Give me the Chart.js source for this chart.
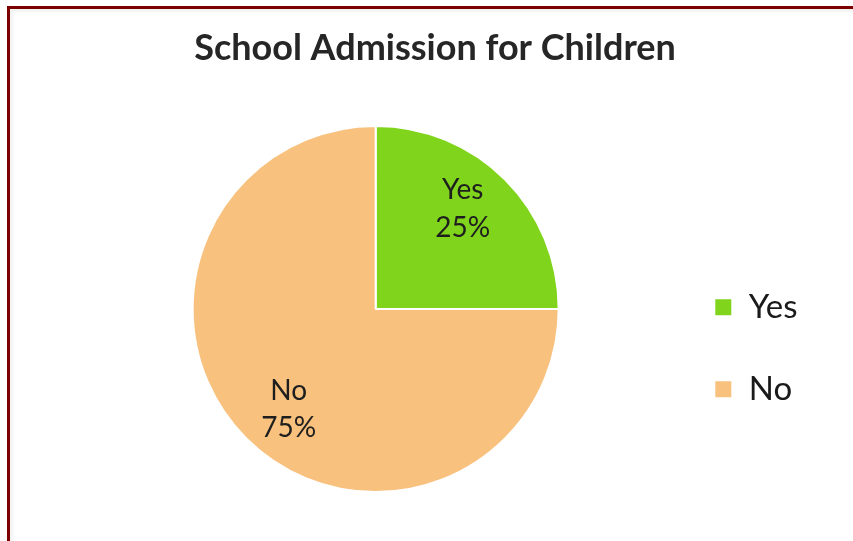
<!DOCTYPE html>
<html>
<head>
<meta charset="utf-8">
<title>School Admission for Children</title>
<script src="https://cdn.jsdelivr.net/npm/chart.js@4.4.1/dist/chart.umd.min.js"></script>
<style>
    html, body {
        margin: 0;
        padding: 0;
        background: #ffffff;
    }
    .frame {
        position: relative;
        width: 853px;
        height: 541px;
        overflow: hidden;
    }
    .frame canvas {
        position: absolute;
        left: 0;
        top: 0;
    }
    /* dark red edge on the left and top, with a faint inner shadow */
    .frame .edge {
        position: absolute;
        left: 7px;
        top: 6px;
        width: 900px;
        height: 600px;
        border-left: 3px solid #7d0000;
        border-top: 3px solid #7d0000;
        box-shadow: inset 3px 3px 3px rgba(0, 0, 0, 0.05);
        pointer-events: none;
    }
</style>
</head>
<body>
<div class="frame">
    <canvas id="pie1" width="853" height="541"></canvas>
    <div class="edge"></div>
</div>
<script>
const labels = ['Yes', 'No']
const values = [25, 75]
const colors = ['#80d41c', '#f8c17e']

// writes "label / percent" inside every slice, a bit before the slice middle
const sliceLabels = {
    id: 'sliceLabels',
    afterDatasetsDraw(chart) {
        const ctx = chart.ctx
        const meta = chart.getDatasetMeta(0)
        const total = values.reduce((a, b) => a + b, 0)
        const nudge = -4 * Math.PI / 180
        ctx.save()
        ctx.font = '28px Lato'
        ctx.fillStyle = '#1e1e1e'
        ctx.textAlign = 'center'
        ctx.textBaseline = 'middle'
        meta.data.forEach((arc, i) => {
            const p = arc.getProps(['x', 'y', 'startAngle', 'endAngle', 'outerRadius'], true)
            const mid = (p.startAngle + p.endAngle) / 2 + nudge
            const r = p.outerRadius * 0.725
            const cx = p.x + Math.cos(mid) * r
            const cy = p.y + Math.sin(mid) * r
            const pct = Math.round(values[i] / total * 100) + '%'
            ctx.fillText(labels[i], cx, cy - 18.5)
            ctx.fillText(pct, cx, cy + 19)
        })
        ctx.restore()
    }
}

function render_pie(canvas_id) {
    const ctx = document.getElementById(canvas_id)

    new Chart(ctx, {
        type: 'pie',
        data: {
            labels: labels,
            datasets: [{
                data: values,
                backgroundColor: colors,
                borderColor: '#ffffff',
                borderWidth: 2,
                radius: 183
            }]
        },
        options: {
            responsive: false,
            animation: false,
            devicePixelRatio: 1,
            layout: {
                padding: { left: 62.5, right: 45.5, top: 0, bottom: 13.2 }
            },
            plugins: {
                tooltip: { enabled: false },
                title: {
                    display: true,
                    text: 'School Admission for Children',
                    color: '#262626',
                    font: { family: 'Lato', size: 36, weight: 'bold' },
                    padding: { top: 27, bottom: 20 }
                },
                legend: {
                    position: 'right',
                    align: 'center',
                    // empty title, only used to push the entries down
                    title: {
                        display: true,
                        text: '',
                        padding: 89
                    },
                    labels: {
                        boxWidth: 18,
                        boxHeight: 18,
                        padding: 25.5,
                        color: '#1a1a1a',
                        font: { family: 'Lato', size: 33, lineHeight: 1.712 },
                        // array text makes each entry take a full line height
                        generateLabels(chart) {
                            const items = Chart.overrides.pie.plugins.legend.labels.generateLabels(chart)
                            items.forEach(item => { item.text = [item.text] })
                            return items
                        }
                    }
                }
            }
        },
        plugins: [sliceLabels]
    })
}

render_pie('pie1')
</script>
</body>
</html>
